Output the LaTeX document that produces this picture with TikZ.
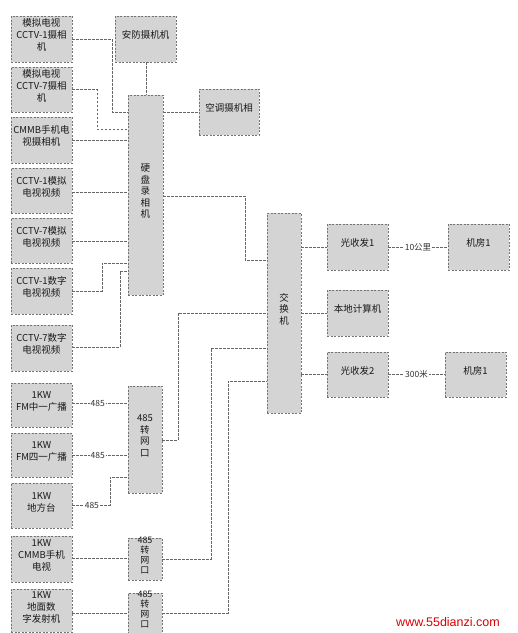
\documentclass[tikz,border=0pt]{standalone}
\usepackage{fontspec}
\setmainfont{Noto Sans CJK SC}
\newfontfamily\wmfont{Liberation Sans}
\usetikzlibrary{fit}
\newcommand\mybox[7][]{\node[box,#1,fit={(#3,#4) (#5,#6)}] (#2) {#7};}
\begin{document}
\begin{tikzpicture}[x=1pt,y=-1pt,
 box/.style={draw=black!55, dash pattern=on 2pt off 1.5pt, line width=0.5pt, fill=black!17, inner sep=0pt, align=center, font=\fontsize{9.5}{12}\selectfont, text=black!90},
 vbox/.style={font=\fontsize{9.5}{11.5}\selectfont},
 conn/.style={draw=black!60, dash pattern=on 2.5pt off 1.5pt, line width=0.5pt},
 lbl/.style={fill=white, inner sep=1pt, font=\fontsize{8.5}{10}\selectfont, text=black!80},
 wm/.style={text=red!85!black, font=\wmfont\fontsize{12.5}{14}\selectfont}]
\useasboundingbox (0,0) rectangle (518,633);
% left column
\mybox{L1}{11}{16}{72}{62}{模拟电视\\CCTV-1摄相\\机}
\mybox{L2}{11}{67}{72}{112}{模拟电视\\CCTV-7摄相\\机}
\mybox{L3}{11}{117}{72}{163}{CMMB手机电\\视摄相机}
\mybox{L4}{11}{168}{72}{213}{CCTV-1模拟\\电视视频}
\mybox{L5}{11}{218}{72}{263}{CCTV-7模拟\\电视视频}
\mybox{L6}{11}{268}{72}{314}{CCTV-1数字\\电视视频}
\mybox{L7}{11}{325}{72}{371}{CCTV-7数字\\电视视频}
\mybox{L8}{11}{383}{72}{427}{1KW\\FM中一广播}
\mybox{L9}{11}{433}{72}{477}{1KW\\FM四一广播}
\mybox{L10}{11}{483}{72}{528}{1KW\\地方台}
\mybox{L11}{11}{536}{72}{582}{1KW\\CMMB手机\\电视}
\mybox{L12}{11}{589}{72}{632}{1KW\\地面数\\字发射机}
% middle
\mybox{AF}{115}{16}{176}{62}{安防摄机机}
\mybox[vbox]{HD}{128}{95}{163}{295}{硬\\盘\\录\\相\\机}
\mybox{KT}{199}{89}{259}{135}{空调摄机相}
\mybox[vbox]{C1}{128}{386}{162}{493}{485\\转\\网\\口}
\mybox[font=\fontsize{9}{10}\selectfont]{C2}{128}{538}{162}{580}{485\\转\\网\\口}
\mybox[font=\fontsize{9}{10}\selectfont]{C3}{128}{593}{162}{633}{485\\转\\网\\口}
% right
\mybox[vbox]{SW}{267}{213}{301}{413}{交\\换\\机}
\mybox{G1}{327}{224}{388}{270}{光收发1}
\mybox{R1}{448}{224}{509}{270}{机房1}
\mybox{PC}{327}{290}{388}{336}{本地计算机}
\mybox{G2}{327}{352}{388}{397}{光收发2}
\mybox{R2}{445}{352}{506}{397}{机房1}
% connectors
\draw[conn] (L1.east) -- (112,39 |- L1.east) -- (112,112) -- (HD.west |- 0,112);
\draw[conn] (AF.south -| 146,0) -- (HD.north -| 146,0);
\draw[conn] (L2.east) -- (97,0 |- L2.east) -- (97,129) -- (HD.west |- 0,129);
\draw[conn] (L3.east) -- (HD.west |- L3.east);
\draw[conn] (HD.east |- 0,112) -- (KT.west |- 0,112);
\draw[conn] (L4.east |- 0,192) -- (HD.west |- 0,192);
\draw[conn] (L5.east |- 0,241) -- (HD.west |- 0,241);
\draw[conn] (L6.east) -- (102,0 |- L6.east) -- (102,263) -- (HD.west |- 0,263);
\draw[conn] (L7.east |- 0,347) -- (120,347) -- (120,271) -- (HD.west |- 0,271);
\draw[conn] (HD.east |- 0,196) -- (245,196) -- (245,260) -- (SW.west |- 0,260);
\draw[conn] (C1.east |- 0,440) -- (178,440) -- (178,313) -- (SW.west |- 0,313);
\draw[conn] (C2.east |- 0,559) -- (211,559) -- (211,348) -- (SW.west |- 0,348);
\draw[conn] (C3.east |- 0,613) -- (228,613) -- (228,381) -- (SW.west |- 0,381);
\draw[conn] (SW.east |- G1.west) -- (G1.west);
\draw[conn] (G1.east) -- node[lbl, pos=0.5] {10公里} (R1.west);
\draw[conn] (SW.east |- PC.west) -- (PC.west);
\draw[conn] (SW.east |- G2.west) -- (G2.west);
\draw[conn] (G2.east) -- node[lbl, pos=0.5] {300米} (R2.west);
\draw[conn] (L8.east |- 0,403) -- node[lbl, pos=0.46] {485} (C1.west |- 0,403);
\draw[conn] (L9.east |- 0,455) -- node[lbl, pos=0.46] {485} (C1.west |- 0,455);
\draw[conn] (L10.east |- 0,505) -- node[lbl, pos=0.52] {485} (110,505) -- (110,477) -- (C1.west |- 0,477);
\draw[conn] (L11.east |- 0,558) -- (C2.west |- 0,558);
\draw[conn] (L12.east |- 0,613) -- (C3.west |- 0,613);
% watermark
\node[wm] (WM) at (448,622) {www.55dianzi.com};
\end{tikzpicture}
\end{document}
